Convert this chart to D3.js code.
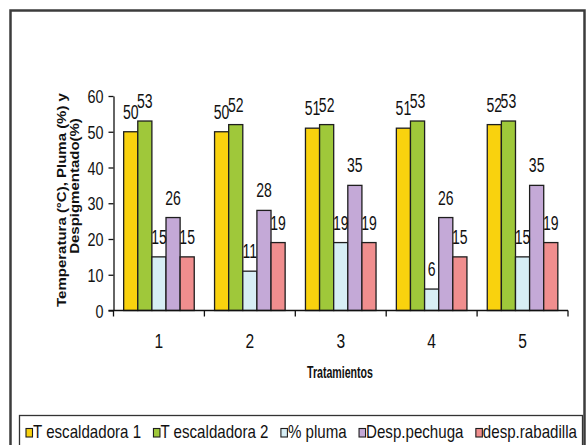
<!DOCTYPE html>
<html>
<head>
<meta charset="utf-8">
<script src="https://cdn.jsdelivr.net/npm/d3@7"></script>
<style>
  html, body { margin: 0; padding: 0; background: #fff; }
  svg { display: block; }
  text { font-family: "Liberation Sans", Arial, sans-serif; fill: #111; }
</style>
</head>
<body>
<svg id="chart" width="588" height="445"></svg>
<script>
// Treatments on the x axis
const categories = ["1", "2", "3", "4", "5"];
// Series shown in each treatment group
const seriesNames = ["T escaldadora 1", "T escaldadora 2", "% pluma", "Desp.pechuga", "desp.rabadilla"];
const tEscaldadora1 = [50, 50, 51, 51, 52];
const tEscaldadora2 = [53, 52, 52, 53, 53];
const pluma = [15, 11, 19, 6, 15];
const despPechuga = [26, 28, 35, 26, 35];
const despRabadilla = [15, 19, 19, 15, 19];
const seriesColors = ["#F9D20E", "#9FC83A", "#D7EEF5", "#C4A9D7", "#F08E8E"];
const yTicks = [0, 10, 20, 30, 40, 50, 60];
const yTitleLines = ["Temperatura (°C), Pluma (%) y", "Despigmentado(%)"];
const xTitle = "Tratamientos";

const seriesValues = [tEscaldadora1, tEscaldadora2, pluma, despPechuga, despRabadilla];

const svg = d3.select("#chart");

// outer chart frame
svg.append("rect")
  .attr("x", 10.5).attr("y", 10.5)
  .attr("width", 574).attr("height", 450)
  .attr("fill", "#fff")
  .attr("stroke", "#3c3c3c")
  .attr("stroke-width", 2.5);

const plot = { left: 113.5, right: 568, top: 96, bottom: 310.5 };

const x0 = d3.scaleBand()
  .domain(categories)
  .range([plot.left, plot.right])
  .paddingInner(0).paddingOuter(0);

const x1 = d3.scaleBand()
  .domain(seriesNames)
  .range([0, x0.bandwidth()])
  .paddingInner(0)
  .paddingOuter(0.72);

const y = d3.scaleLinear().domain([0, 60]).range([plot.bottom, plot.top]);

// bars
const groups = svg.append("g").selectAll("g")
  .data(categories)
  .join("g")
  .attr("transform", c => `translate(${x0(c)},0)`);

groups.selectAll("rect")
  .data((c, i) => seriesNames.map((s, k) => ({ s, k, v: seriesValues[k][i] })))
  .join("rect")
  .attr("x", d => x1(d.s))
  .attr("y", d => y(d.v))
  .attr("width", x1.bandwidth())
  .attr("height", d => y(0) - y(d.v))
  .attr("fill", d => seriesColors[d.k])
  .attr("stroke", "#1e1e1e")
  .attr("stroke-width", 1.3);

// value labels above bars
groups.selectAll("text.val")
  .data((c, i) => seriesNames.map((s, k) => ({ s, k, v: seriesValues[k][i] })))
  .join("text")
  .attr("class", "val")
  .attr("transform", d => `translate(${x1(d.s) + x1.bandwidth() / 2},${y(d.v) - 13}) scale(0.72,1)`)
  .attr("text-anchor", "middle")
  .style("font-size", "19.5px")
  .text(d => d.v);

// y axis
const yAxis = svg.append("g")
  .attr("transform", `translate(${plot.left},0)`)
  .call(d3.axisLeft(y).tickValues(yTicks).tickSize(5).tickPadding(10).tickSizeOuter(0));
yAxis.select(".domain").attr("stroke", "#111").attr("stroke-width", 1.3);
yAxis.selectAll(".tick line").attr("stroke", "#111").attr("stroke-width", 1.3);
yAxis.selectAll(".tick text")
  .attr("x", null)
  .attr("dy", null)
  .attr("transform", "translate(-10,6.5) scale(0.8,1)")
  .style("font-size", "18px")
  .style("font-family", "'Liberation Sans', Arial, sans-serif")
  .attr("fill", "#111");

// x axis line with boundary ticks
const xAxis = svg.append("g");
xAxis.append("line")
  .attr("x1", plot.left - 5).attr("x2", plot.right)
  .attr("y1", plot.bottom).attr("y2", plot.bottom)
  .attr("stroke", "#111").attr("stroke-width", 1.3);
const boundaries = categories.map(c => x0(c)).concat([x0.range()[1]]);
xAxis.selectAll("line.tk")
  .data(boundaries)
  .join("line")
  .attr("class", "tk")
  .attr("x1", d => d).attr("x2", d => d)
  .attr("y1", plot.bottom).attr("y2", plot.bottom + 6)
  .attr("stroke", "#111").attr("stroke-width", 1.3);
xAxis.selectAll("text")
  .data(categories)
  .join("text")
  .attr("transform", c => `translate(${x0(c) + x0.bandwidth() / 2},348) scale(0.76,1)`)
  .attr("text-anchor", "middle")
  .style("font-size", "20.5px")
  .text(c => c);

// axis titles
svg.append("text")
  .attr("transform", "translate(340,378)")
  .attr("text-anchor", "middle")
  .attr("textLength", 66)
  .attr("lengthAdjust", "spacingAndGlyphs")
  .style("font-size", "17px")
  .style("font-weight", "bold")
  .text(xTitle);

const yTitle = svg.append("g");
yTitle.append("text")
  .attr("transform", "translate(65.5,200) scale(0.82,1) rotate(-90)")
  .attr("text-anchor", "middle")
  .style("font-size", "15px")
  .style("font-weight", "bold")
  .text(yTitleLines[0]);
yTitle.append("text")
  .attr("transform", "translate(78.5,186) scale(0.82,1) rotate(-90)")
  .attr("text-anchor", "middle")
  .style("font-size", "15px")
  .style("font-weight", "bold")
  .text(yTitleLines[1]);

// legend
const legendBox = { x: 19.5, y: 415.5, w: 563, h: 40 };
svg.append("rect")
  .attr("x", legendBox.x).attr("y", legendBox.y)
  .attr("width", legendBox.w).attr("height", legendBox.h)
  .attr("fill", "#fff")
  .attr("stroke", "#333").attr("stroke-width", 1.3);

const legend = svg.append("g");
const items = legend.selectAll("g")
  .data(seriesNames)
  .join("g");
items.append("rect")
  .attr("width", 6.5).attr("height", 8.5)
  .attr("y", 428.5)
  .attr("fill", (d, i) => seriesColors[i])
  .attr("stroke", "#1e1e1e").attr("stroke-width", 1.1);
items.append("text")
  .attr("class", "lt")
  .style("font-size", "18px")
  .text(d => d);

// lay out the legend entries across the box
const sx = 0.84, startX = 26, endX = 577, textOff = 7;
const widths = [];
items.select("text.lt").each(function () { widths.push(this.getComputedTextLength() * sx); });
const used = d3.sum(widths) + textOff * widths.length;
const gap = (endX - startX - used) / (widths.length - 1);
let cx = startX;
items.each(function (d, i) {
  const g = d3.select(this);
  g.select("rect").attr("x", cx);
  g.select("text").attr("transform", `translate(${cx + textOff},438) scale(${sx},1)`);
  cx += textOff + widths[i] + gap;
});
</script>
</body>
</html>
